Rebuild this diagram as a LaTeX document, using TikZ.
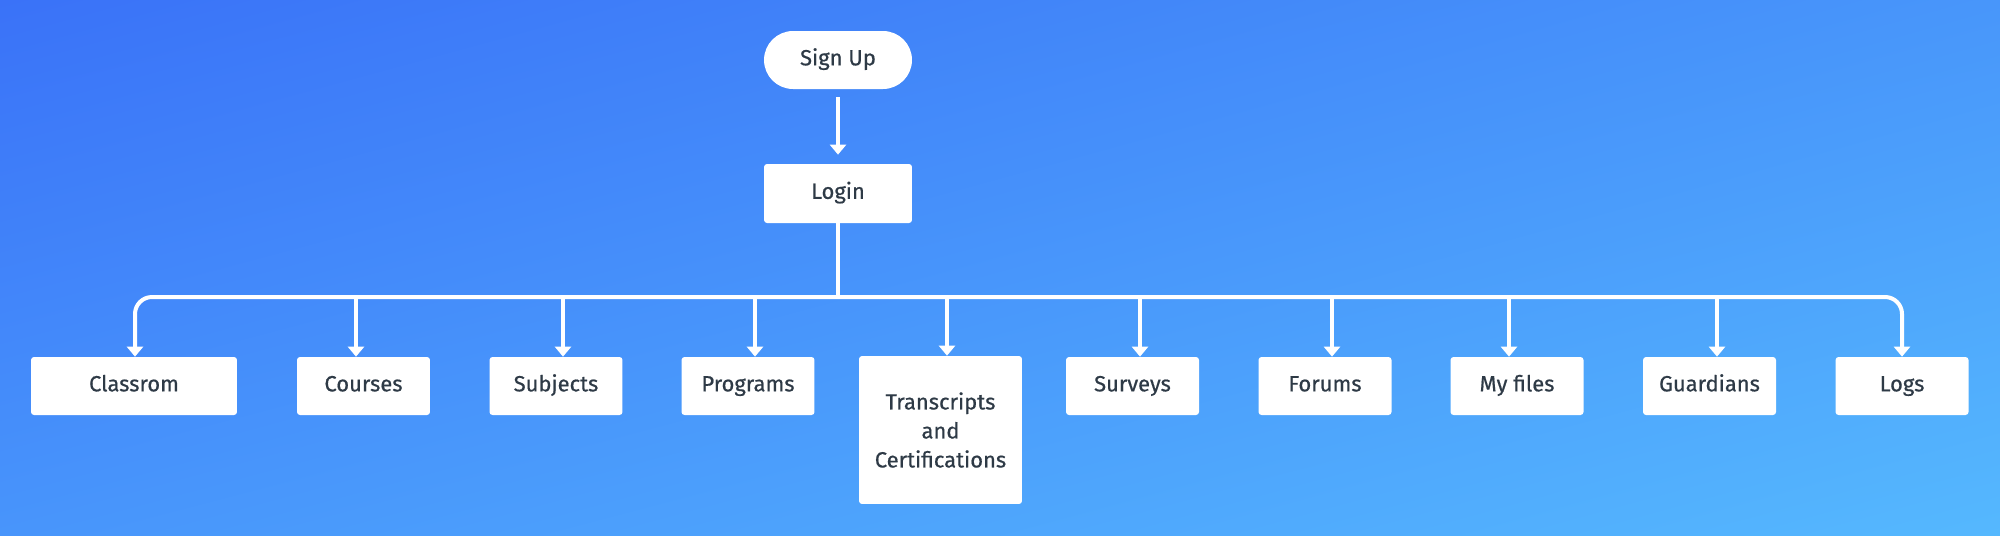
\documentclass[tikz,border=0pt]{standalone}
\usepackage{fontspec}
\setmainfont{Fira Sans}[FakeBold=0.6]
\usetikzlibrary{arrows.meta, positioning, calc, shadings}
\definecolor{bgTL}{HTML}{3A72F8}
\definecolor{bgTR}{HTML}{4896FA}
\definecolor{bgBL}{HTML}{4895FB}
\definecolor{bgBR}{HTML}{55B8FE}
\definecolor{ink}{HTML}{2E3A46}
\newcommand{\flowfont}{\fontsize{12.5}{16.5}\selectfont}
\tikzset{
  card/.style={rectangle, rounded corners=0.06cm, fill=white, minimum width=2.66cm, minimum height=1.16cm, inner sep=2pt, align=center, text=ink, font=\flowfont},
  box/.style={card, text height=1.6ex, text depth=0.45ex},
  pill/.style={box, rounded corners=0.58cm, minimum width=2.96cm},
  arrow/.style={-{Triangle[width=0.32cm, length=0.2cm]}, draw=white, line width=0.08cm},
  link/.style={draw=white, line width=0.08cm},
}

\begin{document}
\begin{tikzpicture}[x=0.02cm, y=-0.02cm]
\shade[upper left=bgTL, upper right=bgTR, lower left=bgBL, lower right=bgBR] (0,0) rectangle (2000,535);
\node[pill] (signup) at (838,60) {Sign Up};
\node[box, minimum width=2.96cm, minimum height=1.18cm] (login) at (838,193.5) {Login};
\coordinate (bus) at (838,297);
\node[box, minimum width=4.12cm] (classroom) at (134,386) {Classrom};
\node[box] (courses) at (363.5,386) {Courses};
\node[box] (subjects) at (556,386) {Subjects};
\node[box] (programs) at (748,386) {Programs};
\node[card, minimum width=3.26cm, minimum height=2.96cm] (transcripts) at (940.5,430) {Transcripts\\and\\Certifications};
\node[box] (surveys) at (1132.5,386) {Surveys};
\node[box] (forums) at (1325,386) {Forums};
\node[box] (myfiles) at (1517,386) {My files};
\node[box] (guardians) at (1709.5,386) {Guardians};
\node[box] (logs) at (1902,386) {Logs};
\foreach \n/\dx in {classroom/1, courses/-7.5, subjects/7, programs/7, transcripts/6.5, surveys/7.5, forums/7, myfiles/-8, guardians/7.5, logs/0}
  \coordinate (\n-in) at ($(\n.north)+(\dx,0)$);
\draw[arrow, shorten <=0.16cm, shorten >=0.18cm] (signup) -- (login);
\draw[link] (login) -- (bus);
\draw[arrow, rounded corners=0.34cm] (bus) -| (classroom-in);
\draw[arrow, rounded corners=0.34cm] (bus) -| (logs-in);
\foreach \n in {courses, subjects, programs, transcripts, surveys, forums, myfiles, guardians}
  \draw[arrow] (bus -| \n-in) -- (\n-in);
\end{tikzpicture}
\end{document}
